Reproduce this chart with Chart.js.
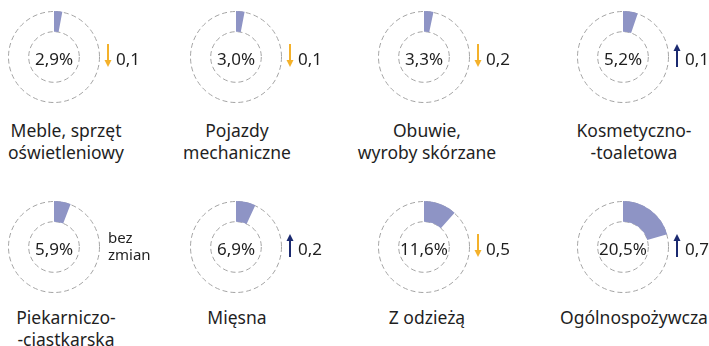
<!DOCTYPE html>
<html>
<head>
<meta charset="utf-8">
<script src="https://cdn.jsdelivr.net/npm/chart.js@4.4.0/dist/chart.umd.min.js"></script>
<style>
  html, body { margin: 0; padding: 0; }
  body {
    width: 709px; height: 346px; overflow: hidden; position: relative;
    background: #fff; color: #222;
    font-family: "Noto Sans", sans-serif;
  }
  canvas { position: absolute; }
  .label {
    position: absolute; width: 200px; margin-left: -100px;
    text-align: center; font-size: 17.5px; line-height: 22px; color: #1f1f1f;
  }
</style>
</head>
<body>
<script>
// Branch names (with their line breaks), share in %, change in p.p.
const categories = [
  ['Meble, sprzęt', 'oświetleniowy'],
  ['Pojazdy', 'mechaniczne'],
  ['Obuwie,', 'wyroby skórzane'],
  ['Kosmetyczno-', '-toaletowa'],
  ['Piekarniczo-', '-ciastkarska'],
  ['Mięsna'],
  ['Z odzieżą'],
  ['Ogólnospożywcza']
];
const shares = [2.9, 3.0, 3.3, 5.2, 5.9, 6.9, 11.6, 20.5];
const changes = [-0.1, -0.1, -0.2, 0.1, 0, 0.2, -0.5, 0.7];

const colCenters = [53.5, 236, 423.5, 623];
const rowCenters = [56.5, 247];
const labelCenters = [66, 237, 427, 634];
const labelTops = [119, 306];

const SLICE = '#8e94c5';
const DOWN = '#f4b12a';
const UP = '#1b2a70';

const fmt = v => Math.abs(v).toFixed(1).replace('.', ',');

const ringPlugin = {
  id: 'ring',
  beforeDatasetsDraw(chart) {
    const arc = chart.getDatasetMeta(0).data[0];
    const ctx = chart.ctx;
    ctx.save();
    ctx.strokeStyle = '#a4a4a4';
    ctx.lineWidth = 1;
    ctx.setLineDash([5, 3]);
    [arc.outerRadius - 0.5, arc.innerRadius].forEach(r => {
      ctx.beginPath();
      ctx.arc(arc.x, arc.y, r, 0, Math.PI * 2);
      ctx.stroke();
    });
    ctx.restore();
  },
  afterDraw(chart, args, opts) {
    const arc = chart.getDatasetMeta(0).data[0];
    const ctx = chart.ctx;
    const x = arc.x, y = arc.y;
    ctx.save();
    ctx.fillStyle = '#1f1f1f';
    ctx.font = '17px "Noto Sans"';
    ctx.textAlign = 'center';
    ctx.textBaseline = 'alphabetic';
    ctx.fillText(fmt(opts.share) + '%', x, y + 8);

    const ax = x + 54;
    ctx.textAlign = 'left';
    if (opts.change === 0) {
      ctx.font = '15px "Noto Sans"';
      ctx.fillText('bez', ax, y - 4);
      ctx.fillText('zmian', ax, y + 13);
    } else {
      const up = opts.change > 0;
      const col = up ? UP : DOWN;
      const top = y - 13, bot = y + 10;
      ctx.strokeStyle = col;
      ctx.fillStyle = col;
      ctx.lineWidth = 2;
      ctx.beginPath();
      if (up) { ctx.moveTo(ax, bot); ctx.lineTo(ax, top + 5); }
      else { ctx.moveTo(ax, top); ctx.lineTo(ax, bot - 5); }
      ctx.stroke();
      ctx.beginPath();
      if (up) {
        ctx.moveTo(ax, top); ctx.lineTo(ax - 3.5, top + 7); ctx.lineTo(ax + 3.5, top + 7);
      } else {
        ctx.moveTo(ax, bot); ctx.lineTo(ax - 3.5, bot - 7); ctx.lineTo(ax + 3.5, bot - 7);
      }
      ctx.closePath();
      ctx.fill();
      ctx.fillStyle = '#1f1f1f';
      ctx.font = '17px "Noto Sans"';
      ctx.fillText(fmt(opts.change), ax + 8, y + 8);
    }
    ctx.restore();
  }
};

shares.forEach((share, i) => {
  const col = i % 4, row = Math.floor(i / 4);
  const cx = colCenters[col], cy = rowCenters[row];

  const canvas = document.createElement('canvas');
  canvas.width = 170;
  canvas.height = 96;
  canvas.style.left = (cx - 48) + 'px';
  canvas.style.top = (cy - 48) + 'px';
  document.body.appendChild(canvas);

  new Chart(canvas.getContext('2d'), {
    type: 'doughnut',
    data: {
      labels: ['udział', 'reszta'],
      datasets: [{
        data: [share, 100 - share],
        backgroundColor: [SLICE, 'rgba(0,0,0,0)'],
        borderWidth: 0
      }]
    },
    options: {
      responsive: false,
      animation: false,
      events: [],
      cutout: '55%',
      layout: { padding: { top: 2, bottom: 2, left: 2, right: 76 } },
      plugins: {
        legend: { display: false },
        tooltip: { enabled: false },
        ring: { share: share, change: changes[i] }
      }
    },
    plugins: [ringPlugin]
  });

  const label = document.createElement('div');
  label.className = 'label';
  label.style.left = labelCenters[col] + 'px';
  label.style.top = labelTops[row] + 'px';
  label.innerHTML = categories[i].join('<br>');
  document.body.appendChild(label);
});
</script>
</body>
</html>
